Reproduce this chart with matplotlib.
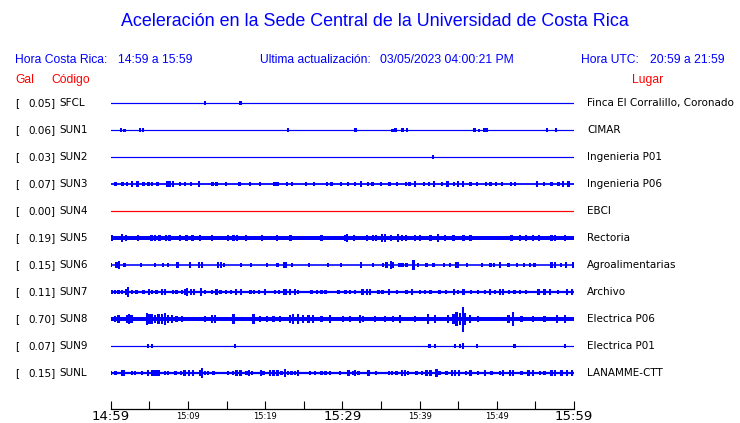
import matplotlib
matplotlib.use("Agg")
import matplotlib.pyplot as plt

W, H = 740, 423
BLUE = "#0000ff"
RED = "#ff0000"

# station rows, top to bottom
codes = ["SFCL", "SUN1", "SUN2", "SUN3", "SUN4", "SUN5", "SUN6", "SUN7", "SUN8", "SUN9", "SUNL"]
gal = [0.05, 0.06, 0.03, 0.07, 0.00, 0.19, 0.15, 0.11, 0.70, 0.07, 0.15]
places = ["Finca El Corralillo, Coronado", "CIMAR", "Ingenieria P01", "Ingenieria P06", "EBCI",
          "Rectoria", "Agroalimentarias", "Archivo", "Electrica P06", "Electrica P01", "LANAMME-CTT"]
trace_colors = [BLUE, BLUE, BLUE, BLUE, RED, BLUE, BLUE, BLUE, BLUE, BLUE, BLUE]
# half thickness of the quiet trace (px)
base_amp = [0.6, 0.6, 0.6, 0.9, 0.6, 2.0, 0.8, 1.1, 2.0, 0.6, 1.1]
# px per burst level on each row
level_px = [0.8, 0.75, 0.8, 0.85, 1.0, 0.9, 0.85, 0.85, 1.0, 0.8, 0.85]

# bursts: minute after 14:59 and burst level
bursts = {
    "SFCL": [(12.2, 3), (16.8, 2)],
    "SUN1": [(1.3, 3), (1.8, 2), (3.8, 3), (4.2, 3), (23.0, 3), (31.7, 3), (36.5, 2), (36.9, 3),
             (37.8, 3), (38.4, 3), (47.1, 3), (47.7, 2), (48.4, 3), (48.7, 3), (56.5, 3), (57.7, 3)],
    "SUN2": [(41.7, 2)],
    "SUN3": [(0.64, 2), (1.51, 2), (2.07, 2), (2.72, 3), (3.49, 3), (4.23, 2), (4.88, 2), (5.31, 2),
             (6.08, 2), (7.25, 3), (7.6, 3), (8.11, 3), (8.98, 2), (9.63, 2), (10.4, 2), (11.4, 3),
             (13.2, 2), (13.7, 2), (14.9, 2), (16.7, 2), (18.0, 2), (19.3, 2), (21.2, 2), (21.6, 2),
             (22.8, 2), (23.5, 2), (25.3, 2), (26.3, 2), (28.0, 2), (28.6, 2), (29.8, 2), (30.7, 2),
             (31.6, 2), (32.4, 3), (33.3, 2), (33.9, 2), (35.0, 2), (36.1, 2), (37.1, 2), (38.2, 2),
             (38.7, 2), (39.4, 3), (40.6, 2), (41.2, 2), (41.9, 3), (42.9, 2), (43.6, 3), (44.5, 2),
             (45.0, 3), (45.6, 3), (46.6, 2), (47.4, 2), (48.6, 2), (49.2, 2), (49.9, 2), (50.7, 2),
             (51.8, 2), (52.4, 2), (55.2, 3), (56.1, 2), (57.1, 2), (58.0, 2), (58.6, 3), (59.3, 3)],
    "SUN4": [],
    "SUN5": [(0.1, 3), (1.5, 4), (2.0, 3), (3.5, 3), (5.3, 3), (5.7, 3), (6.3, 3), (7.2, 3), (7.6, 3),
             (9.0, 3), (9.8, 3), (10.6, 3), (11.6, 3), (13.1, 3), (15.2, 3), (15.9, 3), (16.4, 3),
             (17.5, 3), (19.6, 3), (21.5, 3), (23.3, 3), (27.3, 3), (30.3, 3), (30.6, 4), (31.5, 3),
             (33.2, 3), (34.0, 3), (34.4, 3), (35.1, 4), (35.5, 4), (36.3, 3), (37.2, 4), (37.7, 3),
             (38.2, 3), (39.4, 3), (40.1, 3), (41.4, 3), (42.4, 4), (43.3, 3), (44.4, 3), (45.7, 3),
             (46.6, 3), (51.9, 3), (53.0, 3), (53.8, 3), (54.7, 3), (55.5, 3), (57.1, 3), (57.5, 3),
             (58.8, 3)],
    "SUN6": [(0.04, 2), (0.77, 3), (1.08, 5), (1.77, 2), (3.92, 2), (5.74, 2), (6.73, 2), (7.46, 2),
             (8.67, 3), (10.3, 3), (11.4, 3), (11.8, 3), (13.9, 3), (14.3, 3), (14.7, 2), (16.9, 2),
             (18.2, 2), (20.2, 2), (21.6, 2), (22.4, 3), (22.7, 3), (23.5, 2), (25.7, 2), (28.1, 2),
             (29.8, 2), (32.4, 3), (34.0, 2), (35.3, 2), (35.7, 3), (36.3, 5), (36.6, 3), (37.4, 2),
             (37.8, 2), (38.3, 2), (39.2, 6), (39.8, 2), (40.9, 2), (41.8, 2), (43.2, 2), (43.9, 2),
             (44.7, 3), (45.0, 3), (46.1, 2), (48.1, 2), (49.2, 2), (49.6, 2), (50.4, 3), (51.5, 2),
             (52.6, 2), (53.5, 2), (54.3, 2), (54.9, 2), (57.1, 3), (57.5, 3), (58.3, 2), (59.0, 3),
             (59.9, 3)],
    "SUN7": [(0.13, 2), (0.56, 2), (0.99, 2), (1.42, 2), (1.94, 4), (2.2, 6), (2.72, 2), (3.36, 2),
             (4.23, 2), (4.96, 3), (5.31, 2), (5.95, 2), (6.6, 3), (7.03, 3), (8.11, 2), (8.54, 2),
             (9.19, 2), (9.62, 3), (9.88, 5), (10.4, 3), (10.8, 3), (11.7, 5), (12.2, 2), (13.1, 2),
             (13.7, 3), (14.2, 2), (14.9, 2), (15.6, 2), (16.2, 3), (16.9, 3), (18.1, 2), (18.6, 2),
             (19.2, 2), (20.0, 3), (21.3, 2), (21.8, 2), (22.4, 3), (22.7, 4), (23.2, 3), (23.9, 3),
             (24.3, 2), (26.0, 2), (26.7, 2), (27.3, 2), (27.8, 2), (29.5, 2), (30.4, 2), (31.0, 2),
             (31.6, 2), (32.6, 3), (33.2, 3), (33.6, 3), (34.7, 2), (35.2, 2), (36.0, 3), (37.1, 2),
             (38.3, 2), (39.0, 3), (40.1, 2), (40.7, 2), (41.4, 2), (42.6, 2), (43.4, 2), (44.5, 3),
             (45.0, 2), (45.7, 3), (46.7, 2), (47.6, 2), (48.5, 2), (49.1, 3), (49.8, 2), (50.4, 3),
             (50.8, 3), (51.6, 2), (52.3, 2), (53.0, 2), (53.8, 2), (55.4, 3), (56.2, 3), (56.9, 3),
             (57.9, 2), (59.1, 3), (59.7, 3)],
    "SUN8": [(0.56, 3), (1.0, 4), (2.07, 4), (2.4, 5), (2.7, 4), (4.66, 6), (5.0, 5), (5.3, 5),
             (5.74, 4), (6.17, 5), (6.6, 5), (7.03, 6), (7.46, 4), (7.9, 4), (8.54, 3), (9.19, 3),
             (12.2, 3), (13.1, 4), (13.5, 4), (15.9, 5), (18.5, 5), (19.3, 3), (20.2, 3), (21.1, 3),
             (21.9, 3), (23.2, 4), (23.6, 5), (24.3, 5), (24.9, 4), (25.6, 4), (26.2, 4), (27.3, 3),
             (28.4, 4), (30.1, 3), (31.0, 3), (32.3, 4), (32.7, 3), (34.2, 3), (35.5, 3), (36.6, 3),
             (37.5, 4), (39.4, 3), (41.1, 5), (42.0, 4), (43.7, 4), (44.4, 5), (44.8, 7), (45.2, 6),
             (45.6, 12.5), (45.9, 6), (46.5, 4), (47.6, 3), (51.5, 4), (52.1, 7), (53.2, 3), (54.7, 3),
             (56.2, 3), (57.8, 4), (58.8, 4)],
    "SUN9": [(4.79, 3), (5.31, 3), (16.1, 2), (41.3, 3), (42.0, 3), (44.6, 3), (45.2, 2), (45.6, 4),
             (47.4, 2), (52.3, 3), (58.8, 3)],
    "SUNL": [(0.04, 2), (0.64, 2), (1.42, 3), (1.64, 3), (2.72, 2), (3.15, 2), (4.01, 2), (4.87, 3),
             (5.31, 3), (5.61, 4), (5.95, 3), (6.26, 4), (7.03, 2), (7.46, 2), (8.41, 2), (9.1, 2),
             (9.54, 3), (10.1, 3), (10.7, 3), (11.6, 3), (11.8, 6), (12.2, 2), (12.6, 2), (13.3, 2),
             (15.2, 2), (15.8, 2), (16.3, 3), (16.8, 3), (17.6, 2), (17.9, 3), (18.3, 2), (19.5, 4),
             (19.8, 2), (20.6, 3), (21.1, 3), (21.6, 3), (22.1, 2), (22.6, 5), (23.0, 2), (23.4, 2),
             (23.9, 2), (24.3, 3), (25.8, 2), (26.5, 2), (27.3, 2), (27.8, 2), (28.4, 2), (29.7, 2),
             (30.8, 3), (31.4, 2), (31.6, 3), (32.1, 2), (33.4, 3), (34.4, 2), (36.0, 2), (36.4, 2),
             (37.0, 2), (37.7, 3), (38.1, 3), (38.5, 2), (39.6, 2), (40.3, 2), (40.9, 3), (41.4, 3),
             (42.2, 5), (42.6, 2), (43.5, 2), (44.2, 3), (44.6, 3), (45.1, 3), (46.0, 2), (46.6, 3),
             (47.6, 2), (48.5, 3), (49.3, 2), (50.4, 2), (50.8, 3), (51.7, 3), (52.1, 3), (53.2, 2),
             (54.1, 3), (54.7, 4), (55.6, 2), (56.2, 2), (57.1, 3), (57.5, 4), (58.4, 3), (59.1, 3),
             (59.7, 3)],
}

tick_labels = ["14:59", "15:09", "15:19", "15:29", "15:39", "15:49", "15:59"]


def fx(x):
    return x / W


def fy(y):
    return 1 - y / H


fig = plt.figure(figsize=(W / 100, H / 100), dpi=100)

# trace panel: x in minutes, y in pixels from the top
x0, x1 = 110.7, 574.0
ybot, ytop = 409.0, 90.0
ax = fig.add_axes([fx(x0), fy(ybot), fx(x1) - fx(x0), (ybot - ytop) / H])
ax.set_xlim(0, 60)
ax.set_ylim(ybot, ytop)

row0, step = 103, 27
for i, code in enumerate(codes):
    yc = row0 + i * step
    c = trace_colors[i]
    ax.axhline(yc, color=c, linewidth=max(2 * base_amp[i], 1.0) * 0.72)
    b = bursts[code]
    if b:
        t = [p[0] for p in b]
        a = [max(p[1] * level_px[i], base_amp[i] + 0.8) for p in b]
        ax.bar(t, [2 * v for v in a], bottom=[yc - v for v in a], width=0.3,
               color=c, linewidth=0, align="center")
    fig.text(fx(15), fy(yc), "[", fontsize=7.5, va="center", ha="left")
    fig.text(fx(55.5), fy(yc), "%.2f]" % gal[i], fontsize=7.5, va="center", ha="right")
    fig.text(fx(59), fy(yc), code, fontsize=7.5, va="center", ha="left")
    fig.text(fx(587), fy(yc), places[i], fontsize=7.5, va="center", ha="left")

for s in ["top", "left", "right"]:
    ax.spines[s].set_visible(False)
ax.spines["bottom"].set_linewidth(0.9)
ax.set_yticks([])
ax.set_xticks(range(0, 61, 5))
ax.set_xticklabels([])
ax.tick_params(axis="x", direction="in", length=6, width=0.8)
for k, lab in enumerate(tick_labels):
    big = k % 3 == 0
    ax.text(k * 10, 416, lab, ha="center", va="center",
            fontsize=9.5 if big else 6, clip_on=False)

# header
fig.text(fx(375), fy(22), "Aceleración en la Sede Central de la Universidad de Costa Rica",
         family="Liberation Sans", fontsize=12.9, color=BLUE, ha="center", va="center")
hdr = dict(family="Liberation Sans", fontsize=8.7, color=BLUE, va="center")
fig.text(fx(15), fy(60), "Hora Costa Rica:", ha="left", **hdr)
fig.text(fx(118), fy(60), "14:59 a 15:59", ha="left", **hdr)
fig.text(fx(260), fy(60), "Ultima actualización:", ha="left", **hdr)
fig.text(fx(380), fy(60), "03/05/2023 04:00:21 PM", ha="left", **hdr)
fig.text(fx(581), fy(60), "Hora UTC:", ha="left", **hdr)
fig.text(fx(725), fy(60), "20:59 a 21:59", ha="right", **hdr)
red = dict(family="Liberation Sans", fontsize=8.7, color=RED, va="center")
fig.text(fx(15), fy(80), "Gal", ha="left", **red)
fig.text(fx(51), fy(80), "Código", ha="left", **red)
fig.text(fx(663), fy(80), "Lugar", ha="right", **red)

fig.savefig("out.png", dpi=100)
